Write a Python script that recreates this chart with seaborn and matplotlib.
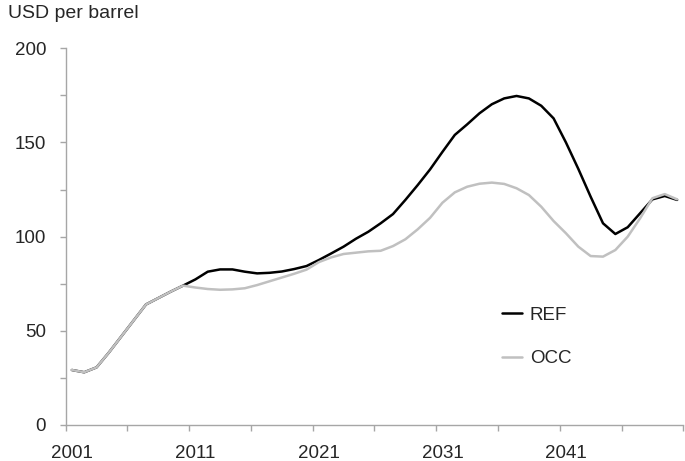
import numpy as np
import pandas as pd
import matplotlib
matplotlib.use("Agg")
import matplotlib.pyplot as plt
import seaborn as sns

years = list(range(2001, 2051))

ref = [29.2, 28.0, 30.6, 38.5, 47.0, 55.5, 64.0, 67.4, 70.8, 74.0,
       77.3, 81.4, 82.6, 82.6, 81.4, 80.5, 80.8, 81.5, 82.8, 84.4,
       87.6, 91.1, 94.7, 98.9, 102.6, 107.1, 112.0, 119.5, 127.4, 135.7,
       145.0, 154.0, 159.6, 165.5, 170.3, 173.4, 174.7, 173.4, 169.5, 162.8,
       150.0, 136.0, 121.2, 107.1, 101.4, 105.0, 112.4, 119.8, 121.6, 119.5]

occ = [29.2, 28.0, 30.6, 38.5, 47.0, 55.5, 64.0, 67.4, 70.8, 74.0,
       73.0, 72.2, 71.8, 72.0, 72.6, 74.3, 76.3, 78.3, 80.3, 82.5,
       86.5, 89.0, 90.8, 91.5, 92.2, 92.5, 95.0, 98.6, 103.9, 110.0,
       118.0, 123.5, 126.5, 128.1, 128.7, 128.0, 125.7, 122.1, 115.9, 108.3,
       101.8, 94.7, 89.7, 89.4, 92.9, 100.0, 109.7, 120.4, 122.6, 119.8]

series = ["REF", "OCC"]
colors = {"REF": "#000000", "OCC": "#c0c0c0"}
xlabels = [2001, 2011, 2021, 2031, 2041]

df = pd.DataFrame({
    "year": years * 2,
    "price": ref + occ,
    "scenario": ["REF"] * len(years) + ["OCC"] * len(years),
})

sns.set_style("white")
plt.rcParams["font.family"] = ["Liberation Sans", "DejaVu Sans"]

fig = plt.figure(figsize=(6.85, 4.61), dpi=100)
ax = fig.add_axes([0.0959, 0.0781, 0.9016, 0.8171])

sns.lineplot(data=df, x="year", y="price", hue="scenario", hue_order=series,
             palette=colors, linewidth=1.8, ax=ax)

ax.set_xlim(2000.5, 2050.5)
ax.set_ylim(0, 200)
ax.set_xlabel("")
ax.set_ylabel("")

grey = "#a6a6a6"
for s in ["top", "right"]:
    ax.spines[s].set_visible(False)
for s in ["left", "bottom"]:
    ax.spines[s].set_color(grey)
    ax.spines[s].set_linewidth(1)

ax.set_xticks(xlabels)
ax.set_xticklabels([str(y) for y in xlabels])
ax.set_xticks(np.arange(2000.5, 2051, 5), minor=True)
ax.tick_params(axis="x", which="major", length=0, pad=14.5, labelsize=13.5)
ax.tick_params(axis="x", which="minor", length=4, width=1, color=grey,
               direction="out", bottom=True)

ax.set_yticks(np.arange(0, 201, 50))
ax.set_yticks(np.arange(0, 201, 25), minor=True)
ax.tick_params(axis="y", which="both", length=4, width=1, color=grey,
               direction="out", left=True, labelsize=13.5, pad=10)

fig.text(8 / 685, 1 - 13 / 461, "USD per barrel", fontsize=14, va="center", ha="left")

ax.legend(loc="center left", bbox_to_anchor=(0.7324, 0.269),
          bbox_transform=fig.transFigure, frameon=False, fontsize=13.5,
          handlelength=1.1, handletextpad=0.4, labelspacing=1.4,
          borderpad=0, borderaxespad=0)

fig.savefig("out.png", dpi=100)
